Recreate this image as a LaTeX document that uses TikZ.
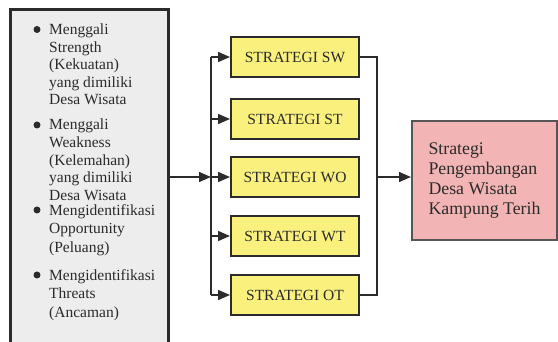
\documentclass[tikz,border=0pt]{standalone}
\usepackage{fontspec}
\setmainfont{Liberation Serif}
\usetikzlibrary{arrows.meta}
\definecolor{ink}{HTML}{2B2B2B}
\definecolor{leftfill}{HTML}{EDEDED}
\definecolor{yel}{HTML}{FAF07E}
\definecolor{pinkfill}{HTML}{F2B4B4}
\definecolor{pinkline}{HTML}{555555}
\begin{document}
\begin{tikzpicture}[x=1pt,y=-1pt,
  itemtext/.style={font=\fontsize{15.5}{17.6}\selectfont, align=left, inner sep=0pt, text=ink, anchor=north west},
  itemtextb/.style={itemtext, font=\fontsize{15.5}{18.6}\selectfont},
  dot/.style={circle, fill=ink, inner sep=0pt, minimum size=7pt},
  stratbox/.style={draw=ink, line width=2pt, fill=yel, minimum width=128pt, minimum height=40pt, inner sep=0pt, text=ink, font=\fontsize{15.5}{18}\selectfont},
  conn/.style={draw=ink, line width=1.5pt},
  arr/.style={conn, -{Triangle[length=12pt,width=10pt]}},
  resultbox/.style={draw=pinkline, line width=2pt, fill=pinkfill, minimum width=145pt, minimum height=119pt, align=left, text=ink, font=\fontsize{17.8}{20.3}\selectfont}
]
\useasboundingbox (0,0) rectangle (558,342);
\clip (0,0) rectangle (558,342);
% left panel
\fill[leftfill] (10,10) rectangle (168,360);
\draw[ink, line width=3pt] (10,360) -- (10,10) -- (168,10) -- (168,360);

\node[dot] (b1) at (37,29.5) {};
\node[itemtext] (i1) at (49,23.5) {Menggali\\Strength\\(Kekuatan)\\yang dimiliki\\Desa Wisata};
\node[dot] (b2) at (37,125) {};
\node[itemtext] (i2) at (49,119) {Menggali\\Weakness\\(Kelemahan)\\yang dimiliki\\Desa Wisata};
\node[dot] (b3) at (37,210) {};
\node[itemtextb] (i3) at (49,204) {Mengidentifikasi\\Opportunity\\(Peluang)};
\node[dot] (b4) at (37,275) {};
\node[itemtextb] (i4) at (49,269) {Mengidentifikasi\\Threats\\(Ancaman)};

% strategy boxes
\node[stratbox] (sw) at (295,57) {STRATEGI SW};
\node[stratbox] (st) at (295,119) {STRATEGI ST};
\node[stratbox] (wo) at (295,177) {STRATEGI WO};
\node[stratbox] (wt) at (295,236) {STRATEGI WT};
\node[stratbox] (ot) at (295,295) {STRATEGI OT};

% result box
\node[resultbox] (res) at (484.5,180.5) {Strategi\\Pengembangan\\Desa Wisata\\Kampung Terih};

% connectors
\coordinate (lout) at (168,177);
\coordinate (bl) at (211,177);
\coordinate (br) at (377,177);
\draw[arr] (lout) -- (bl);
\draw[conn] (bl |- sw.west) -- (bl |- ot.west);
\foreach \n in {sw,st,wo,wt,ot}{
  \draw[arr] (bl |- \n.west) -- (\n.west);
}
\draw[conn] (sw.east) -- (br |- sw.east) -- (br |- ot.east) -- (ot.east);
\draw[arr] (br) -- (br -| res.west);
\end{tikzpicture}
\end{document}
